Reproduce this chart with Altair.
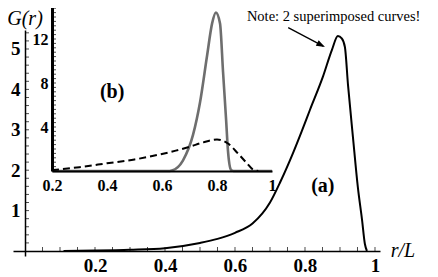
import altair as alt
import pandas as pd

# ---- data ----
main_r = [0.11, 0.2, 0.3, 0.4, 0.5, 0.55, 0.6, 0.65, 0.7, 0.73, 0.766, 0.79, 0.814,
          0.851, 0.877, 0.894, 0.905, 0.914, 0.923, 0.937, 0.951, 0.963, 0.971, 0.977]
main_g = [0.0, 0.01, 0.03, 0.07, 0.2, 0.3, 0.45, 0.68, 1.2, 1.72, 2.43, 2.95, 3.49,
          4.31, 4.98, 5.32, 5.26, 5.05, 4.1, 2.82, 1.58, 0.77, 0.18, 0.0]

peak_r = [0.2, 0.62, 0.636, 0.676, 0.713, 0.738, 0.764, 0.782, 0.796, 0.811, 0.822,
          0.833, 0.84, 0.851, 0.86, 1.0]
peak_g = [0.0, 0.0, 0.05, 0.95, 3.3, 6.2, 10.5, 13.4, 14.4, 13.4, 9.0, 4.7, 1.8, 0.1,
          0.0, 0.0]

dash_r = [0.2, 0.3, 0.4, 0.5, 0.6, 0.65, 0.7, 0.75, 0.8, 0.84, 0.876, 0.909, 0.93, 0.95]
dash_g = [0.08, 0.35, 0.7, 1.05, 1.55, 1.85, 2.2, 2.6, 2.87, 2.5, 1.6, 0.7, 0.15, 0.0]

main_x_labels = [0.2, 0.4, 0.6, 0.8, 1.0]
main_y_labels = [1, 2, 3, 4, 5]
inset_x_labels = [0.2, 0.4, 0.6, 0.8, 1.0]
inset_y_labels = [4, 8, 12]

main_x_minor = [round(0.05 * i, 2) for i in range(1, 21)]
main_y_minor = [round(0.2 * i, 1) for i in range(1, 28)]
inset_y_minor = [round(0.4 * i, 1) for i in range(1, 38)]

FONT = "Liberation Serif"

xs_main = alt.Scale(domain=[-0.0343, 1.0143], nice=False, zero=False)
ys_main = alt.Scale(domain=[-0.124, 5.47], nice=False, zero=False)
xs_in = alt.Scale(domain=[0.2, 1.0], range=[39, 259], nice=False, zero=False)
ys_in = alt.Scale(domain=[0, 15], range=[141, -24], nice=False, zero=False)

ax_main_x = alt.Axis(values=main_x_labels, format="~g", ticks=False, grid=False,
                     domainColor="black", domainWidth=1.5, offset=-5, orient="bottom",
                     labelFont=FONT, labelFontWeight="bold", labelFontSize=19,
                     labelColor="black", labelPadding=5, labelFlush=False,
                     title=None, zindex=1)
ax_main_y = alt.Axis(values=main_y_labels, ticks=False, grid=False,
                     domainColor="black", domainWidth=1.5, offset=-12, orient="left",
                     labelFont=FONT, labelFontWeight="bold", labelFontSize=19,
                     labelColor="black", labelPadding=5, title=None, zindex=1)
ax_in_x = alt.Axis(values=inset_x_labels, format="~g", ticks=False, grid=False,
                   domainColor="black", domainWidth=2, offset=-85, orient="bottom",
                   labelFont=FONT, labelFontWeight="bold", labelFontSize=16,
                   labelColor="black", labelPadding=6, labelFlush=False,
                   title=None, zindex=1)
ax_in_y = alt.Axis(values=inset_y_labels, ticks=False, grid=False,
                   domainColor="black", domainWidth=3, offset=-39, orient="left",
                   labelFont=FONT, labelFontWeight="bold", labelFontSize=16,
                   labelColor="black", labelPadding=4, title=None, zindex=1)


def qx(v):
    return alt.XDatum(v, type="quantitative")


def qy(v):
    return alt.YDatum(v, type="quantitative")


# ---- main panel ----
df_main = pd.DataFrame({"r": main_r, "g": main_g})
main_line = alt.Chart(df_main).mark_line(color="black", strokeWidth=2,
                                         interpolate="monotone").encode(
    x=alt.X("r:Q", scale=xs_main, axis=ax_main_x),
    y=alt.Y("g:Q", scale=ys_main, axis=ax_main_y),
)

df_xt = pd.DataFrame({"r": main_x_minor})
main_xticks = alt.Chart(df_xt).mark_tick(color="black", thickness=1, size=4,
                                         yOffset=-2, orient="vertical").encode(
    x="r:Q", y=qy(0))

df_yt = pd.DataFrame({"g": main_y_minor})
main_yticks = alt.Chart(df_yt).mark_tick(color="black", thickness=1, size=4,
                                         xOffset=2, orient="horizontal").encode(
    x=qx(0), y="g:Q")


def label(text, x, y, size, style="normal", weight="normal", align="center",
          baseline="middle"):
    return alt.Chart(pd.DataFrame({"t": [text]})).mark_text(
        font=FONT, fontSize=size, fontStyle=style, fontWeight=weight,
        align=align, baseline=baseline, color="black").encode(
        x=qx(x), y=qy(y), text="t:N")


t_g = label("G(r)", 0.0, 5.74, 20, style="italic")
t_note = label("Note: 2 superimposed curves!", 0.634, 5.69, 14.5, align="left",
               baseline="alphabetic")
t_a = label("(a)", 0.851, 1.61, 20, weight="bold")
t_b = label("(b)", 0.249, 3.94, 20, weight="bold")
t_rl = label("r/L", 1.08, 0.0, 20, style="italic")

arrow_line = alt.Chart(pd.DataFrame({"k": [1]})).mark_rule(
    color="black", strokeWidth=1.3).encode(
    x=qx(0.752), y=qy(5.53), x2=alt.X2Datum(0.852), y2=alt.Y2Datum(5.07))
arrow_head = alt.Chart(pd.DataFrame({"k": [1]})).mark_point(
    shape="M0,0L-0.36,1L0.36,1Z", filled=True, color="black", opacity=1,
    size=300, angle=117).encode(x=qx(0.857), y=qy(5.05))

main = alt.layer(main_line, main_xticks, main_yticks, t_g, t_note, t_a, t_b, t_rl,
                 arrow_line, arrow_head)

# ---- inset ----
df_peak = pd.DataFrame({"r": peak_r, "g": peak_g})
df_dash = pd.DataFrame({"r": dash_r, "g": dash_g})
df_iy = pd.DataFrame({"g": inset_y_minor})

peak_line = alt.Chart(df_peak).mark_line(color="#6e6e6e", strokeWidth=2.6,
                                         interpolate="monotone").encode(
    x=alt.X("r:Q", scale=xs_in, axis=ax_in_x),
    y=alt.Y("g:Q", scale=ys_in, axis=ax_in_y),
)
dash_line = alt.Chart(df_dash).mark_line(color="black", strokeWidth=2,
                                         strokeDash=[7, 4],
                                         interpolate="monotone").encode(
    x="r:Q", y="g:Q")
inset_ticks = alt.Chart(df_iy).mark_tick(color="black", thickness=1, size=4,
                                         xOffset=2, orient="horizontal").encode(
    x=qx(0.2), y="g:Q")

inset = alt.layer(peak_line, dash_line, inset_ticks)

chart = alt.layer(main, inset).resolve_scale(
    x="independent", y="independent"
).properties(
    width=367, height=226,
    padding={"left": 5, "top": 22, "right": 50, "bottom": 20},
    autosize=alt.AutoSizeParams(type="none"),
).configure_view(stroke=None)

chart.save("out.html", embed_options={"renderer": "svg", "actions": False})
